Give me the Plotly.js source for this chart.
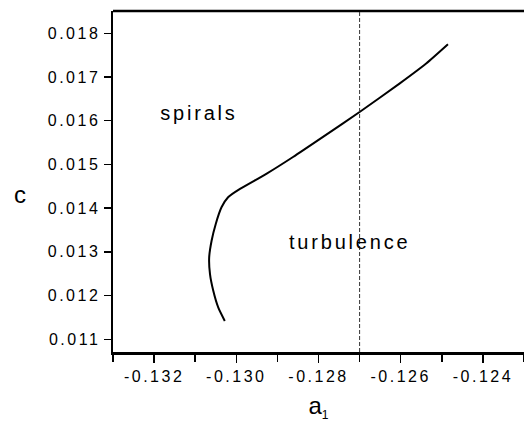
<!DOCTYPE html>
<html><head><meta charset="utf-8">
<script src="https://cdn.plot.ly/plotly-3.0.1.min.js"></script>
<style>
body{margin:0;padding:0;background:#fff}
#chart{width:524px;height:423px}
#chart .xtick text, #chart .ytick text {letter-spacing:2.5px}
#chart .annotation-text.spaced {letter-spacing:2.8px}
</style>
</head><body><div id="chart"></div>
<script>
const a1 = [-0.13028,-0.13044,-0.13056,-0.13064,-0.13066,-0.13060,-0.13050,-0.13036,-0.13020,-0.12991,-0.12926,-0.12862,-0.12789,-0.12700,-0.12603,-0.12538,-0.12485];
const cVals = [0.01142,0.01173,0.01211,0.01249,0.01287,0.01326,0.01364,0.01402,0.01425,0.01444,0.01479,0.01517,0.01563,0.01620,0.01685,0.01731,0.01775];
const dashX = -0.127;
const xTicks = [-0.132,-0.130,-0.128,-0.126,-0.124];
const xTickText = ["-0.132","-0.130","-0.128","-0.126","-0.124"];
const yTicks = [0.011,0.012,0.013,0.014,0.015,0.016,0.017,0.018];
const yTickText = ["0.011","0.012","0.013","0.014","0.015","0.016","0.017","0.018"];
const regionLabels = ["spirals","turbulence"];
const regionX = [-0.13091,-0.12724];
const regionY = [0.01617,0.01322];

const font = "Liberation Sans, Arial, sans-serif";
const data = [{
  x: a1, y: cVals, type: 'scatter', mode: 'lines',
  line: {color: '#000', width: 2, shape: 'spline', smoothing: 0.6},
  hoverinfo: 'skip', showlegend: false
}];
const layout = {
  width: 524, height: 423,
  margin: {l: 113, r: 0, t: 11, b: 71},
  paper_bgcolor: '#fff', plot_bgcolor: '#fff',
  font: {family: font, color: '#000', size: 16},
  xaxis: {
    range: [-0.133, -0.123], showgrid: false, zeroline: false,
    showline: true, linecolor: '#000', linewidth: 2.5,
    ticks: 'outside', ticklen: 8, tickwidth: 1.5, tickcolor: '#000',
    tickvals: xTicks, ticktext: xTickText,
    minor: {dtick: 0.001, tick0: -0.133, ticks: 'outside', ticklen: 7, tickwidth: 1.5, tickcolor: '#000'},
    tickfont: {family: font, size: 16},
    title: {text: 'a<sub><span style="font-size:12px">1</span></sub>', font: {family: font, size: 24}, standoff: 14}
  },
  yaxis: {
    range: [0.01071, 0.01851], showgrid: false, zeroline: false,
    showline: true, linecolor: '#000', linewidth: 2.5,
    ticks: 'outside', ticklen: 7, tickwidth: 1.5, tickcolor: '#000',
    tickvals: yTicks, ticktext: yTickText,
    tickfont: {family: font, size: 16}
  },
  shapes: [
    {type: 'line', xref: 'paper', yref: 'paper', x0: 0, x1: 1, y0: 1, y1: 1, line: {color: '#000', width: 2.5}},
    {type: 'line', xref: 'x', yref: 'paper', x0: dashX, x1: dashX, y0: 0, y1: 1, line: {color: '#333', width: 1, dash: '4px,2px'}}
  ],
  annotations: [
    {x: regionX[0], y: regionY[0], xref: 'x', yref: 'y', text: regionLabels[0], showarrow: false, font: {family: font, size: 20}},
    {x: regionX[1], y: regionY[1], xref: 'x', yref: 'y', text: regionLabels[1], showarrow: false, font: {family: font, size: 20}},
    {x: (20 - 113) / 411, y: (351 - 194) / 340, xref: 'paper', yref: 'paper', text: 'c', showarrow: false,
     xanchor: 'center', yanchor: 'middle', font: {family: font, size: 24}}
  ]
};
Plotly.newPlot('chart', data, layout, {displayModeBar: false, staticPlot: true}).then(function(){
  var ann = document.querySelectorAll('#chart .annotation-text');
  for (var i = 0; i < 2 && i < ann.length; i++) ann[i].classList.add('spaced');
});
</script></body></html>
